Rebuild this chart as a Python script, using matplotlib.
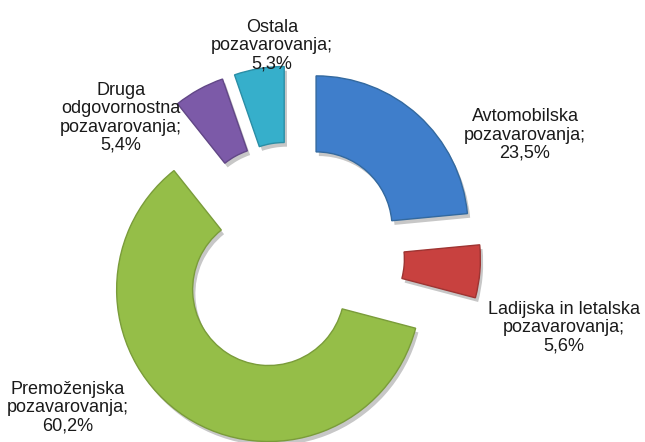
import matplotlib
matplotlib.use("Agg")
import matplotlib.pyplot as plt
import matplotlib.patheffects as pe

# ---- data ----
categories = [
    "Avtomobilska\npozavarovanja",
    "Ladijska in letalska\npozavarovanja",
    "Premoženjska\npozavarovanja",
    "Druga\nodgovornostna\npozavarovanja",
    "Ostala\npozavarovanja",
]
shares = [23.5, 5.6, 60.2, 5.4, 5.3]
colors = ["#3F7ECB", "#C8413F", "#95BE48", "#7C5AA8", "#36AFCB"]
edge_colors = ["#33699F", "#9E3432", "#7A9C3A", "#624787", "#2A8EA6"]

# ---- layout (pixel-like data units) ----
W, H = 645, 442
center = (290.5, H - 256)
radius = 152
ring = 76
explode = [38, 38, 40, 38, 38]
label_pos = [(525, 135), (564, 328), (68, 408), (121, 118), (272, 46)]

plt.rcParams["font.family"] = ["Liberation Sans", "DejaVu Sans"]

fig = plt.figure(figsize=(W / 100, H / 100), dpi=100)
ax = fig.add_axes([0, 0, 1, 1])

wedges, _ = ax.pie(
    shares,
    colors=colors,
    startangle=90,
    counterclock=False,
    center=center,
    radius=radius,
    explode=explode,
    wedgeprops=dict(width=ring, linewidth=1.0),
)
for w, ec in zip(wedges, edge_colors):
    w.set_edgecolor(ec)
    w.set_path_effects([
        pe.SimplePatchShadow(offset=(2, -3), shadow_rgbFace="k", alpha=0.22),
        pe.Normal(),
    ])

for name, val, (x, y) in zip(categories, shares, label_pos):
    txt = f"{name};\n{val:.1f}%".replace(".", ",")
    ax.text(x, H - y, txt, ha="center", va="center", fontsize=13,
            color="#1a1a1a", linespacing=1.08)

ax.set_xlim(0, W)
ax.set_ylim(0, H)
ax.set_aspect("equal")
ax.axis("off")

fig.savefig("out.png", dpi=100)
